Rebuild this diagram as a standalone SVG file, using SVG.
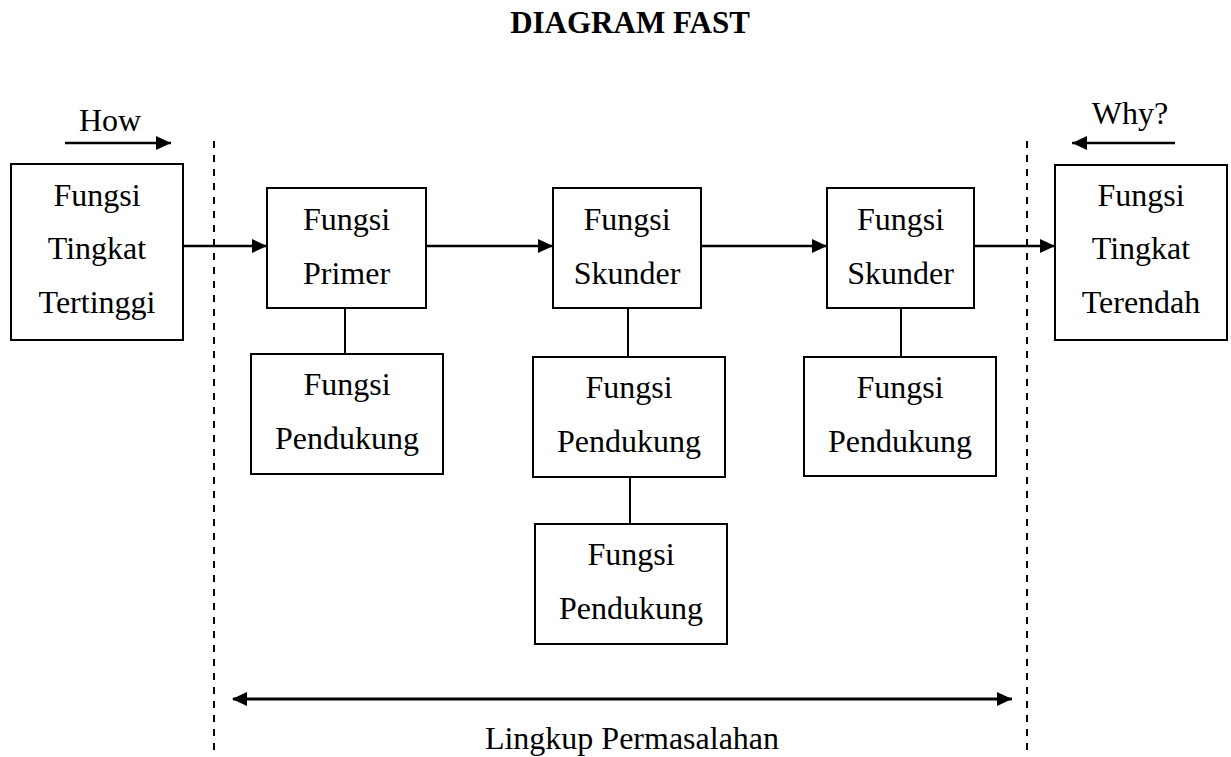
<svg xmlns="http://www.w3.org/2000/svg" width="1231" height="757" viewBox="0 0 1231 757">
<style>
.box{fill:#fff;stroke:#000;stroke-width:2}
.t{font-family:"Liberation Serif","Times New Roman",serif;font-size:32px;text-anchor:middle;fill:#000}
.title{font-family:"Liberation Serif","Times New Roman",serif;font-size:31px;font-weight:bold;text-anchor:middle;fill:#000}
.ln{stroke:#000;stroke-width:2;fill:none}
.ar{stroke:#000;stroke-width:2.5;fill:none;marker-end:url(#ah)}
.dash{stroke:#000;stroke-width:2;stroke-dasharray:7 7;fill:none}
</style>
<defs>
<marker id="ah" markerUnits="userSpaceOnUse" markerWidth="16" markerHeight="14" refX="15" refY="7" orient="auto">
<path d="M0,0 L15,7 L0,14 Z" fill="#000"/>
</marker>
<marker id="ahs" markerUnits="userSpaceOnUse" markerWidth="16" markerHeight="14" refX="1" refY="7" orient="auto">
<path d="M15,0 L0,7 L15,14 Z" fill="#000"/>
</marker>
</defs>
<text class="title" x="630" y="33">DIAGRAM FAST</text>
<g id="guides">
<line class="dash" x1="214" y1="141" x2="214" y2="757"/>
<line class="dash" x1="1027" y1="141" x2="1027" y2="757"/>
</g>
<g id="how">
<text class="t" x="110" y="131">How</text>
<line class="ar" x1="65" y1="143" x2="171" y2="143"/>
</g>
<g id="why">
<text class="t" x="1130" y="124">Why?</text>
<line class="ar" x1="1175" y1="143" x2="1072" y2="143"/>
</g>
<g id="connectors">
<line class="ar" x1="183" y1="246" x2="267" y2="246"/>
<line class="ar" x1="426" y1="246" x2="553" y2="246"/>
<line class="ar" x1="701" y1="246" x2="827" y2="246"/>
<line class="ar" x1="974" y1="246" x2="1055" y2="246"/>
<line class="ln" x1="345" y1="308" x2="345" y2="354"/>
<line class="ln" x1="628" y1="308" x2="628" y2="357"/>
<line class="ln" x1="630" y1="477" x2="630" y2="524"/>
<line class="ln" x1="901" y1="308" x2="901" y2="357"/>
<line stroke="#000" stroke-width="3" marker-start="url(#ahs)" marker-end="url(#ah)" x1="233" y1="699" x2="1012" y2="699"/>
</g>
<g id="n-highest">
<rect class="box" x="11" y="164" width="172" height="176"/>
<text class="t" x="97" y="206">Fungsi</text>
<text class="t" x="97" y="259">Tingkat</text>
<text class="t" x="97" y="313">Tertinggi</text>
</g>
<g id="n-lowest">
<rect class="box" x="1055" y="165" width="172" height="175"/>
<text class="t" x="1141" y="206">Fungsi</text>
<text class="t" x="1141" y="259">Tingkat</text>
<text class="t" x="1141" y="313">Terendah</text>
</g>
<g id="n-primer">
<rect class="box" x="267" y="188" width="159" height="120"/>
<text class="t" x="346.5" y="230">Fungsi</text>
<text class="t" x="346.5" y="284">Primer</text>
</g>
<g id="n-skunder1">
<rect class="box" x="553" y="188" width="148" height="120"/>
<text class="t" x="627" y="230">Fungsi</text>
<text class="t" x="627" y="284">Skunder</text>
</g>
<g id="n-skunder2">
<rect class="box" x="827" y="188" width="147" height="120"/>
<text class="t" x="900.5" y="230">Fungsi</text>
<text class="t" x="900.5" y="284">Skunder</text>
</g>
<g id="n-pendukung1">
<rect class="box" x="251" y="354" width="192" height="120"/>
<text class="t" x="347" y="395">Fungsi</text>
<text class="t" x="347" y="449">Pendukung</text>
</g>
<g id="n-pendukung2">
<rect class="box" x="533" y="357" width="192" height="120"/>
<text class="t" x="629" y="398">Fungsi</text>
<text class="t" x="629" y="452">Pendukung</text>
</g>
<g id="n-pendukung3">
<rect class="box" x="535" y="524" width="192" height="120"/>
<text class="t" x="631" y="565">Fungsi</text>
<text class="t" x="631" y="619">Pendukung</text>
</g>
<g id="n-pendukung4">
<rect class="box" x="804" y="357" width="192" height="119"/>
<text class="t" x="900" y="398">Fungsi</text>
<text class="t" x="900" y="452">Pendukung</text>
</g>
<text class="t" x="632" y="749">Lingkup Permasalahan</text>
</svg>
